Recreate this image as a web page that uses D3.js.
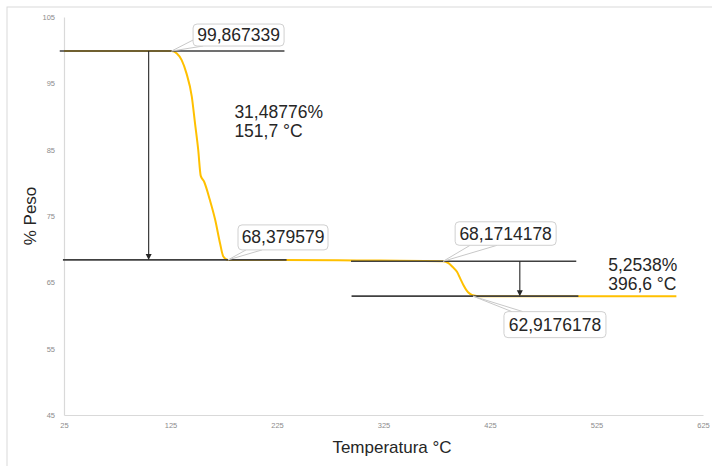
<!DOCTYPE html>
<html>
<head>
<meta charset="utf-8">
<script src="https://cdn.jsdelivr.net/npm/d3@7"></script>
<style>
  body { margin: 0; background: #fff; }
  svg { font-family: "Liberation Sans", Arial, sans-serif; }
</style>
</head>
<body>
<svg id="chart" width="712" height="466"></svg>
<script>
// TGA curve
const temps = [25, 60, 100, 120, 126, 131, 135.5, 140, 145, 148, 151, 153.4, 156.5, 162, 167, 171.5, 174.6, 179, 230, 300, 381, 386, 390, 394, 397, 400, 403, 406, 410, 415, 500, 600];
const weights = [99.87, 99.87, 99.867, 99.867, 99.86, 99.5, 98.5, 96.5, 93.0, 89.0, 85.0, 81.05, 80.2, 77.4, 74.4, 70.9, 68.9, 68.38, 68.38, 68.3, 68.17, 67.9, 67.3, 66.6, 65.6, 64.6, 63.8, 63.3, 63.0, 62.92, 62.92, 62.92];

const xTicks = [25, 125, 225, 325, 425, 525, 625];
const yTicks = [45, 55, 65, 75, 85, 95, 105];

// annotation lines (value, from temp, to temp)
const levelValues = [99.867339, 68.379579, 68.1714178, 62.9176178];
const levelFrom = [21, 24, 294.5, 295];
const levelTo = [232, 234, 506, 508];

// drop arrows
const arrowTemps = [104.5, 453];
const arrowFrom = [99.867339, 68.1714178];
const arrowTo = [68.379579, 62.9176178];

// callouts
const calloutLabels = ["99,867339", "68,379579", "68,1714178", "62,9176178"];
const calloutTemps = [126, 179, 381, 409];
const calloutValues = [99.867339, 68.379579, 68.1714178, 62.9176178];

// step texts
const stepLines = [["31,48776%", "151,7 °C"], ["5,2538%", "396,6 °C"]];
const stepTemps = [185, 536];
const stepValues = [89.8, 66.75];

const svg = d3.select("#chart");

// outer frame
svg.append("rect")
  .attr("x", 7).attr("y", 7).attr("width", 730).attr("height", 480)
  .attr("fill", "none").attr("stroke", "#d9d9d9").attr("stroke-width", 1);

const x = d3.scaleLinear().domain([25, 625]).range([64, 703]);
const y = d3.scaleLinear().domain([45, 105]).range([415, 17]);

const yAxis = svg.append("g")
  .attr("transform", "translate(64,0)")
  .call(d3.axisLeft(y).tickValues(yTicks).tickSize(0).tickPadding(9));
const xAxis = svg.append("g")
  .attr("transform", "translate(0,415)")
  .call(d3.axisBottom(x).tickValues(xTicks).tickSize(0).tickPadding(8));

[yAxis, xAxis].forEach(g => {
  g.select(".domain").attr("stroke", "#d9d9d9").attr("stroke-width", 1.2);
  g.selectAll("text").attr("fill", "#8c8c8c").attr("font-size", 7.5)
    .attr("font-family", "Liberation Sans, Arial, sans-serif");
});

// axis titles
svg.append("text")
  .attr("transform", "translate(36,216) rotate(-90)")
  .attr("text-anchor", "middle").attr("font-size", 17).attr("fill", "#262626")
  .text("% Peso");
svg.append("text")
  .attr("x", 392).attr("y", 453)
  .attr("text-anchor", "middle").attr("font-size", 17).attr("fill", "#262626")
  .text("Temperatura °C");

// curve
const pts = temps.map((t, i) => [t, weights[i]]);
const line = d3.line().x(d => x(d[0])).y(d => y(d[1])).curve(d3.curveMonotoneX);
svg.append("path")
  .datum(pts)
  .attr("d", line)
  .attr("fill", "none").attr("stroke", "#FFC000").attr("stroke-width", 2);

// level lines
levelValues.forEach((v, i) => {
  svg.append("line")
    .attr("x1", x(levelFrom[i])).attr("x2", x(levelTo[i]))
    .attr("y1", y(v)).attr("y2", y(v))
    .attr("stroke", "#404040").attr("stroke-width", 1.6);
});

// arrows
arrowTemps.forEach((t, i) => {
  const ax = x(t), y0 = y(arrowFrom[i]), y1 = y(arrowTo[i]);
  svg.append("line")
    .attr("x1", ax).attr("x2", ax).attr("y1", y0).attr("y2", y1 - 4)
    .attr("stroke", "#262626").attr("stroke-width", 1.1);
  svg.append("path")
    .attr("d", `M${ax - 3},${y1 - 6}L${ax + 3},${y1 - 6}L${ax},${y1}Z`)
    .attr("fill", "#262626");
});

// callout boxes: offset of box from anchor, size, and wedge base
const boxes = [
  { dx: 21.5, dy: -27, w: 91, h: 22, wedge: [[0, 16], [10, 22]] },
  { dx: 10, dy: -35, w: 90, h: 25, wedge: [[8, 25], [24, 25]] },
  { dx: 12, dy: -39.5, w: 101, h: 23.5, wedge: [[15, 23.5], [42, 23.5]] },
  { dx: 31, dy: 15.5, w: 102, h: 26, wedge: [[8, 0], [19, 0]] }
];

calloutLabels.forEach((lab, i) => {
  const px = x(calloutTemps[i]), py = y(calloutValues[i]);
  const b = boxes[i];
  const bx = px + b.dx, by = py + b.dy;
  const g = svg.append("g");
  g.append("path")
    .attr("d", `M${bx + b.wedge[0][0]},${by + b.wedge[0][1]}L${px},${py}L${bx + b.wedge[1][0]},${by + b.wedge[1][1]}`)
    .attr("fill", "none").attr("stroke", "#c8c8c8").attr("stroke-width", 1);
  g.append("rect")
    .attr("x", bx).attr("y", by).attr("width", b.w).attr("height", b.h)
    .attr("rx", 4).attr("fill", "#fff").attr("stroke", "#d0d0d0").attr("stroke-width", 1);
  g.append("text")
    .attr("x", bx + b.w / 2).attr("y", by + b.h / 2 + 6)
    .attr("text-anchor", "middle").attr("font-size", 17.5).attr("fill", "#262626")
    .text(lab);
});

// step texts
stepLines.forEach((lines, i) => {
  const t = svg.append("text")
    .attr("x", x(stepTemps[i])).attr("y", y(stepValues[i]))
    .attr("font-size", 17.5).attr("fill", "#262626");
  lines.forEach((s, j) => {
    t.append("tspan").attr("x", x(stepTemps[i])).attr("dy", j ? 19.5 : 0).text(s);
  });
});
</script>
</body>
</html>
